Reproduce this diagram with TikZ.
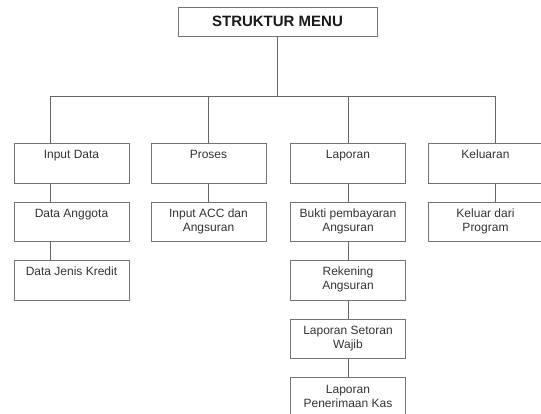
\documentclass[tikz,border=0pt]{standalone}
\usepackage{fontspec}
\setmainfont{Liberation Sans}
\newcommand\bxt[1]{\parbox[t][39.5pt][t]{115pt}{\centering\rule{0pt}{15.5pt}#1}}
\tikzset{
  box/.style={draw=black!55, line width=0.9pt, rectangle, inner sep=0pt,
    minimum width=115pt, minimum height=39.5pt, text=black!80,
    font=\fontsize{12pt}{14pt}\selectfont},
  titlebox/.style={draw=black!55, line width=0.9pt, rectangle, inner sep=0pt,
    minimum width=199pt, minimum height=29pt, text=black!90,
    font=\fontsize{15pt}{17pt}\selectfont\bfseries},
  link/.style={draw=black!60, line width=0.9pt}
}
\begin{document}
\begin{tikzpicture}[x=1pt,y=-1pt]
\useasboundingbox (0,0) rectangle (541,414);
\node[titlebox] (root) at (277.5,21.5) {STRUKTUR MENU};
% column 1
\node[box] (inp) at (71.5,163.25) {\bxt{Input Data}};
\node[box] (ang) at (71.5,221.75) {\bxt{Data Anggota}};
\node[box] (jen) at (71.5,280.25) {\bxt{Data Jenis Kredit}};
% column 2
\node[box] (pro) at (208.5,163.25) {\bxt{Proses}};
\node[box] (acc) at (208.5,221.75) {\bxt{Input ACC dan\\Angsuran}};
% column 3
\node[box] (lap) at (348,163.25) {\bxt{Laporan}};
\node[box] (buk) at (348,221.75) {\bxt{Bukti pembayaran\\Angsuran}};
\node[box] (rek) at (348,280.25) {\bxt{Rekening\\Angsuran}};
\node[box] (set) at (348,338.75) {\bxt{Laporan Setoran\\Wajib}};
\node[box] (kas) at (348,397.25) {\bxt{Laporan\\Penerimaan Kas}};
% column 4
\node[box] (kel) at (485.5,163.25) {\bxt{Keluaran}};
\node[box] (kdp) at (485.5,221.75) {\bxt{Keluar dari\\Program}};
% connectors
\draw[link] (root.south) -- ++(0,60) coordinate (hub);
\draw[link] ([xshift=-21.5pt]inp.north) |- (hub) -| ([xshift=9.5pt]kel.north);
\draw[link] (pro.north) -- (pro.north |- hub);
\draw[link] (lap.north) -- (lap.north |- hub);
\draw[link] ([xshift=-21.5pt]inp.south) -- ([xshift=-21.5pt]ang.north);
\draw[link] ([xshift=-21.5pt]ang.south) -- ([xshift=-21.5pt]jen.north);
\draw[link] (pro.south) -- (acc.north);
\draw[link] (lap.south) -- (buk.north);
\draw[link] (buk.south) -- (rek.north);
\draw[link] (rek.south) -- (set.north);
\draw[link] (set.south) -- (kas.north);
\draw[link] ([xshift=9.5pt]kel.south) -- ([xshift=9.5pt]kdp.north);
\end{tikzpicture}
\end{document}
